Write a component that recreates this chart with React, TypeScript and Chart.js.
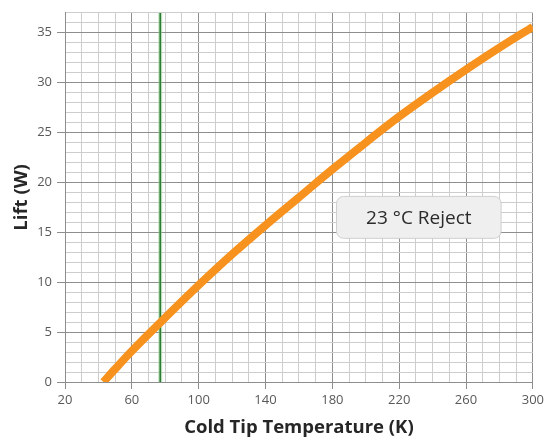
import React, { useEffect, useRef } from "react";
import { Chart, registerables } from "chart.js";

Chart.register(...registerables);

const temperatures = [43, 50, 60, 77, 100, 120, 140, 160, 180, 200, 220, 240, 260, 280, 300];
const lift = [0, 1.3, 3.1, 5.95, 9.7, 12.8, 15.7, 18.5, 21.3, 24.0, 26.6, 29.0, 31.3, 33.5, 35.6];
const markerTemp = 77;
const xLabelTicks = [20, 60, 100, 140, 180, 220, 260, 300];
const yLabelTicks = [0, 5, 10, 15, 20, 25, 30, 35];
const annotationText = "23 °C Reject";
const annotationBox = { x0: 182.5, x1: 281, y0: 18.6, y1: 14.4 };

const boxPlugin = {
  id: "rejectBox",
  afterDatasetsDraw(chart: any) {
    const { ctx, scales } = chart;
    const x0 = scales.x.getPixelForValue(annotationBox.x0);
    const x1 = scales.x.getPixelForValue(annotationBox.x1);
    const y0 = scales.y.getPixelForValue(annotationBox.y0);
    const y1 = scales.y.getPixelForValue(annotationBox.y1);
    ctx.save();
    ctx.beginPath();
    (ctx as any).roundRect(x0, y0, x1 - x0, y1 - y0, 7);
    ctx.fillStyle = "#efefef";
    ctx.fill();
    ctx.strokeStyle = "#cfcfcf";
    ctx.lineWidth = 1;
    ctx.stroke();
    ctx.fillStyle = "#2b2b2b";
    ctx.font = "19px 'Open Sans'";
    ctx.textAlign = "center";
    ctx.textBaseline = "middle";
    ctx.fillText(annotationText, (x0 + x1) / 2, (y0 + y1) / 2 + 1);
    ctx.restore();
  },
};

export default function App() {
  const ref = useRef<HTMLCanvasElement>(null);
  useEffect(() => {
    if (!ref.current) return;
    const chart = new Chart(ref.current, {
      type: "line",
      data: {
        datasets: [
          {
            data: [
              { x: markerTemp, y: 0 },
              { x: markerTemp, y: 37 },
            ],
            borderColor: "rgba(150,210,150,0.6)",
            borderWidth: 4,
            pointRadius: 0,
            order: 3,
          },
          {
            data: [
              { x: markerTemp, y: 0 },
              { x: markerTemp, y: 37 },
            ],
            borderColor: "#2f7a35",
            borderWidth: 1.6,
            pointRadius: 0,
            order: 2,
          },
          {
            data: temperatures.map((t, i) => ({ x: t, y: lift[i] })),
            borderColor: "#f7921e",
            borderWidth: 8,
            pointRadius: 0,
            cubicInterpolationMode: "monotone",
            borderCapStyle: "butt",
            order: 1,
          },
        ],
      },
      options: {
        animation: false,
        responsive: false,
        maintainAspectRatio: false,
        layout: { padding: { top: 9, right: 13, left: 0, bottom: 0 } },
        plugins: { legend: { display: false }, tooltip: { enabled: false } },
        scales: {
          x: {
            type: "linear",
            min: 20,
            max: 300,
            afterFit: (s: any) => {
              s.height = 60;
            },
            afterBuildTicks: (s: any) => {
              const t = [];
              for (let v = 20; v <= 300; v += 10) t.push({ value: v });
              s.ticks = t;
            },
            ticks: {
              autoSkip: false,
              maxRotation: 0,
              padding: 3,
              color: "#595959",
              font: { family: "'Open Sans'", size: 13 },
              callback: (v: any) => (xLabelTicks.includes(v) ? String(v) : ""),
            },
            grid: {
              tickLength: 7,
              color: (c: any) => (xLabelTicks.includes(c.tick?.value) ? "#8e8e8e" : "#cdcdcd"),
              tickColor: (c: any) => (xLabelTicks.includes(c.tick?.value) ? "#8e8e8e" : "rgba(0,0,0,0)"),
            },
            border: { color: "#8e8e8e" },
            title: {
              display: true,
              text: "Cold Tip Temperature (K)",
              color: "#262626",
              font: { family: "'Open Sans'", size: 18.5, weight: "bold" },
              padding: { top: 0, bottom: 3 },
            },
          },
          y: {
            type: "linear",
            min: 0,
            max: 37,
            afterFit: (s: any) => {
              s.width = 65;
            },
            afterBuildTicks: (s: any) => {
              const t = [];
              for (let v = 0; v <= 37; v += 1) t.push({ value: v });
              s.ticks = t;
            },
            ticks: {
              autoSkip: false,
              padding: 5,
              color: "#595959",
              font: { family: "'Open Sans'", size: 13 },
              callback: (v: any) => (yLabelTicks.includes(v) ? String(v) : ""),
            },
            grid: {
              tickLength: 8,
              color: (c: any) => (yLabelTicks.includes(c.tick?.value) ? "#8e8e8e" : "#cdcdcd"),
              tickColor: (c: any) => (yLabelTicks.includes(c.tick?.value) ? "#8e8e8e" : "rgba(0,0,0,0)"),
            },
            border: { color: "#8e8e8e" },
            title: {
              display: true,
              text: "Lift (W)",
              color: "#262626",
              font: { family: "'Open Sans'", size: 18.5, weight: "bold" },
              padding: { top: 11, bottom: 0 },
            },
          },
        },
      },
      plugins: [boxPlugin],
    } as any);
    return () => chart.destroy();
  }, []);
  return (
    <div style={{ position: "absolute", left: 0, top: 0, width: 547, height: 442, background: "#fff" }}>
      <canvas ref={ref} width={547} height={442} style={{ display: "block" }} />
    </div>
  );
}
